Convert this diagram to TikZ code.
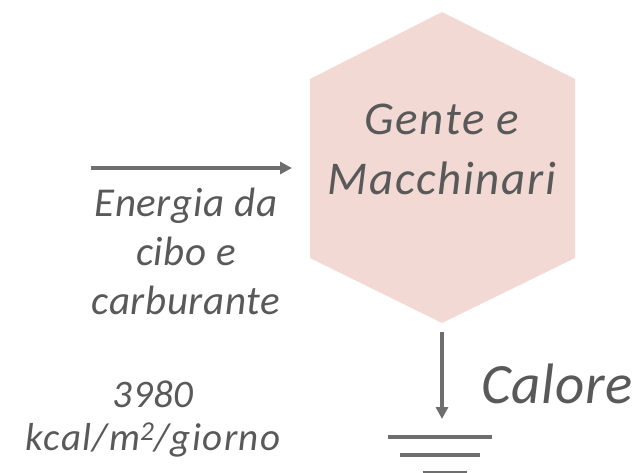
\documentclass[tikz,border=0pt]{standalone}
\usepackage{fontspec}
\setmainfont{Carlito}
\usetikzlibrary{arrows.meta}
\definecolor{hexfill}{HTML}{F2D9D4}
\definecolor{txtgray}{HTML}{595959}
\definecolor{arrgray}{HTML}{6E6E6E}
\tikzset{
  lbl/.style={anchor=base, inner sep=0pt, text=txtgray},
  hexfont/.style={font=\itshape\fontsize{47}{60}\selectfont\addfontfeature{LetterSpace=3.5}},
  enfont/.style={font=\itshape\fontsize{41}{49}\selectfont\addfontfeature{LetterSpace=1.5}},
  valfont/.style={font=\itshape\fontsize{39}{45}\selectfont\addfontfeature{LetterSpace=3.5}},
  numfont/.style={font=\itshape\fontsize{39}{45}\selectfont\addfontfeature{LetterSpace=1}},
  calfont/.style={font=\itshape\fontsize{57}{60}\selectfont\addfontfeature{LetterSpace=1}},
  arr/.style={draw=arrgray, line width=3.2pt, -{Triangle[length=12pt,width=12pt]}},
  gnd/.style={draw=arrgray, line width=4pt},
}
\begin{document}
\begin{tikzpicture}[x=1pt,y=-1pt]
\useasboundingbox (0,0) rectangle (643,473);
% hexagon
\path[fill=hexfill] (442,12) -- (575,79) -- (575,258) -- (442,323) -- (310,258) -- (310,79) -- cycle;
\node[lbl, hexfont] (hex1) at (442,135) {Gente e};
\node[lbl, hexfont] (hex2) at (442,195) {Macchinari};
% input arrow
\coordinate (inS) at (91,168);
\coordinate (inE) at (292,168);
\draw[arr] (inS) -- (inE);
\node[lbl, enfont] (e1) at (186,217) {Energia da};
\node[lbl, enfont] (e2) at (186,266) {cibo e};
\node[lbl, enfont] (e3) at (186,315) {carburante};
\node[lbl, numfont] (v1) at (153,407) {3980};
\node[lbl, valfont] (v2) at (153,450) {kcal/m\textsuperscript{2}/giorno};
% heat output
\coordinate (outS) at (442,332);
\coordinate (outE) at (442,419);
\draw[arr] (outS) -- (outE);
\node[lbl, calfont] (cal) at (557,403) {Calore};
% ground
\coordinate (g1a) at (388,437); \coordinate (g1b) at (492,437);
\coordinate (g2a) at (400,455); \coordinate (g2b) at (480,455);
\coordinate (g3a) at (423,473); \coordinate (g3b) at (467,473);
\draw[gnd] (g1a) -- (g1b);
\draw[gnd] (g2a) -- (g2b);
\draw[gnd] (g3a) -- (g3b);
\end{tikzpicture}
\end{document}
